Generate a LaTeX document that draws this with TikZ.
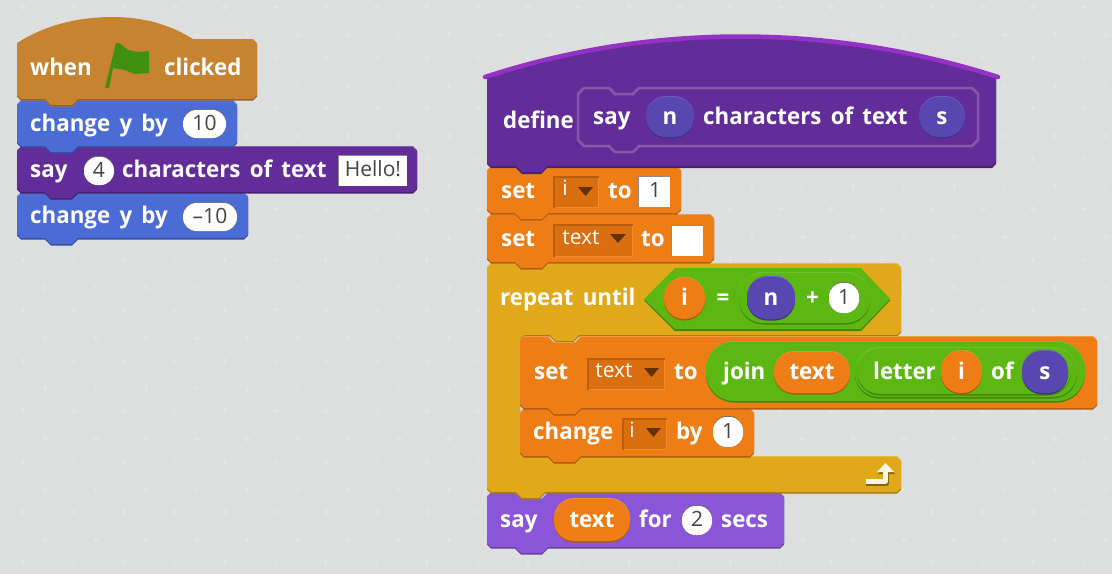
\documentclass[tikz,border=0pt]{standalone}
\usepackage{fontspec}
\setmainfont{Open Sans}
\newfontfamily\blockface[WordSpace=1.6,FakeStretch=0.97]{Open Sans}
\definecolor{scbg}{HTML}{DDDFDE}
\definecolor{scplus}{HTML}{E3E5E4}
\definecolor{schat}{HTML}{C88330}
\definecolor{scblue}{HTML}{4A6CD4}
\definecolor{scmore}{HTML}{632D99}
\definecolor{scedge}{HTML}{8558A8}
\definecolor{sclip}{HTML}{9432C6}
\definecolor{sclooks}{HTML}{8A55D7}
\definecolor{scdata}{HTML}{EE7D16}
\definecolor{scdrop}{HTML}{DA6F10}
\definecolor{sccontrol}{HTML}{E1A91A}
\definecolor{scgreen}{HTML}{5CB712}
\definecolor{scparam}{HTML}{5947B1}
\definecolor{scflag}{HTML}{3F8F10}
\definecolor{scnum}{HTML}{444444}
\tikzset{
  lbl/.style={white,anchor=mid west,inner sep=0pt,yshift=-5pt,font=\blockface\bfseries\fontsize{23}{23}\selectfont},
  numlbl/.style={scnum,anchor=mid,inner sep=0pt,yshift=-4pt,font=\fontsize{21}{21}\selectfont},
  droplbl/.style={white,anchor=mid,inner sep=0pt,yshift=-4pt,font=\fontsize{21}{21}\selectfont},
}
% x, y, width, height, colour
\newcommand{\stackshape}[2]{(0,4) -- (4,0) -- (28,0) -- (34,6) -- (55,6) -- (61,0) -- (#1-4,0) -- (#1,4) -- (#1,#2-4) -- (#1-4,#2) -- (61,#2) -- (55,#2+6) -- (34,#2+6) -- (28,#2) -- (4,#2) -- (0,#2-4) -- cycle}
\newcommand{\stackblock}[5]{
  \begin{scope}[shift={(#1,#2)}]
    \fill[#5!78!white,shift={(0,-1)}] \stackshape{#3}{#4};
    \fill[#5!72!black,shift={(0,1.5)}] \stackshape{#3}{#4};
    \fill[#5] \stackshape{#3}{#4};
  \end{scope}
}
% x1, y1, x2, y2, radius, colour
\newcommand{\pill}[6]{
  \fill[#6!88!white,rounded corners=#5pt] (#1,#2-1) rectangle (#3,#4);
  \fill[#6!72!black,rounded corners=#5pt] (#1,#2+1.5) rectangle (#3,#4+1.5);
  \fill[#6,rounded corners=#5pt] (#1,#2) rectangle (#3,#4);
}
\newcommand{\whitepill}[4]{
  \fill[black!55,rounded corners=13.5pt] (#1,#2-1) rectangle (#3,#4);
  \fill[white,rounded corners=13.5pt] (#1,#2) rectangle (#3,#4);
}
\newcommand{\whitebox}[4]{
  \fill[black!45] (#1-1,#2-1) rectangle (#3,#4);
  \fill[white] (#1,#2) rectangle (#3,#4);
}
\newcommand{\dropbox}[4]{
  \fill[scdrop!85!black] (#1,#2) rectangle (#3,#4);
  \fill[scdata!90!white] (#1+1.5,#2+1.5) rectangle (#3,#4);
  \fill[scdrop] (#1+1.5,#2+1.5) rectangle (#3-1.5,#4-1.5);
}
\newcommand{\droptip}[3]{
  \fill[black!55!scdrop] (#1,#2) -- (#1+#3,#2) -- (#1+#3/2,#2+9) -- cycle;
}
\begin{document}
\begin{tikzpicture}[x=1pt,y=-1pt,line join=round]
  \useasboundingbox (0,0) rectangle (1112,574);
  \fill[scbg] (0,0) rectangle (1112,574);
  \foreach \i in {0,...,21} \foreach \j in {0,...,11} {
    \draw[scplus,line width=1.5pt] (23+50.5*\i-3,7+50.5*\j) -- ++(6,0) (23+50.5*\i,7+50.5*\j-3) -- ++(0,6);
    \draw[scplus,line width=1.5pt] (45+50.5*\i-3,35+50.5*\j) -- ++(6,0) (45+50.5*\i,35+50.5*\j-3) -- ++(0,6);
  }

  % left stack
  \stackblock{17}{193}{231}{45}{scblue}
  \stackblock{17}{147}{400}{45}{scmore}
  \stackblock{17}{101}{220}{45}{scblue}
  \begin{scope}[shift={(0,1.5)}]
    \fill[schat!72!black] (17,43) .. controls (50,22) and (85,17) .. (113,17) .. controls (145,17) and (170,25) .. (193,39) -- (253,39) -- (257,43) -- (257,95) -- (253,99) -- (78,99) -- (72,105) -- (51,105) -- (45,99) -- (21,99) -- (17,95) -- cycle;
  \end{scope}
  \fill[schat] (17,43) .. controls (50,22) and (85,17) .. (113,17) .. controls (145,17) and (170,25) .. (193,39) -- (253,39) -- (257,43) -- (257,95) -- (253,99) -- (78,99) -- (72,105) -- (51,105) -- (45,99) -- (21,99) -- (17,95) -- cycle;
  \node[lbl] (when) at (30,68) {when};
  \fill[scflag] (105,88) -- (116,43) -- (119,43) -- (128,50) -- (138,52) -- (149,51) -- (149,73) -- (135,74) -- (125,70) -- (113,68) -- (109,88) -- cycle;
  \node[lbl] (clicked) at (164,68) {clicked};
  \node[lbl] (changey) at (30,124) {change y by};
  \whitepill{183}{110}{226}{138}
  \node[numlbl] (ten) at (204.5,124) {10};
  \node[lbl] (saytop) at (30,170) {say};
  \whitepill{84}{157}{114}{185}
  \node[numlbl] (four) at (99,171) {4};
  \node[lbl] (chars) at (122,170) {characters of text};
  \whitebox{339}{156}{407}{186}
  \node[numlbl] (hello) at (373,170) {Hello!};
  \node[lbl] (changeyb) at (30,216) {change y by};
  \whitepill{183}{203}{237}{231}
  \node[numlbl] (minusten) at (210,217) {--10};

  % define stack
  \stackblock{487}{493}{297}{54}{sclooks}
  \node[lbl] (saybot) at (500,520) {say};
  \pill{554}{499}{630}{541}{20}{scdata}
  \node[lbl,anchor=mid] (textc) at (592,520) {text};
  \node[lbl] (forlbl) at (639,520) {for};
  \whitepill{682}{506}{712}{535}
  \node[numlbl] (two) at (697,520) {2};
  \node[lbl] (secs) at (721,520) {secs};

  \begin{scope}[shift={(487,264)}]
    \def\repeatshape{(0,4) -- (4,0) -- (28,0) -- (34,6) -- (55,6) -- (61,0) -- (410,0) -- (414,4) -- (414,67) -- (410,71) -- (92,71) -- (86,77) -- (69,77) -- (63,71) -- (37,71) -- (33,75) -- (33,189) -- (37,193) -- (410,193) -- (414,197) -- (414,224) -- (410,228) -- (58,228) -- (52,234) -- (35,234) -- (29,228) -- (4,228) -- (0,224) -- cycle}
    \fill[sccontrol!78!white,shift={(0,-1)}] \repeatshape;
    \fill[sccontrol!72!black,shift={(0,1.5)}] \repeatshape;
    \fill[sccontrol] \repeatshape;
  \end{scope}
  \node[lbl] (repeatl) at (500,298) {repeat until};
  \fill[scgreen!72!black] (644,300.5) -- (675,269.5) -- (861,269.5) -- (890,300.5) -- (861,331) -- (675,331) -- cycle;
  \fill[scgreen] (644,299) -- (675,268) -- (861,268) -- (890,299) -- (861,329) -- (675,329) -- cycle;
  \pill{664}{278}{705}{319}{20}{scdata}
  \node[lbl,anchor=mid] (ia) at (684.5,298) {i};
  \node[lbl,anchor=mid] (eq) at (723,298) {=};
  \pill{739}{273}{870}{323}{24}{scgreen}
  \pill{747}{277}{795}{319}{20}{scparam}
  \node[lbl,anchor=mid] (nb) at (771,298) {n};
  \node[lbl,anchor=mid] (plus) at (812.5,298) {+};
  \whitepill{829}{283}{859}{313}
  \node[numlbl] (onea) at (844,298) {1};
  \draw[sccontrol!60!black,line width=5pt] (866,483) -- (886.5,483) -- (886.5,474);
  \fill[sccontrol!60!black] (878,474) -- (886.5,465) -- (895,474) -- cycle;
  \draw[white!88!sccontrol,line width=5pt] (866,481) -- (885.5,481) -- (885.5,472);
  \fill[white!88!sccontrol] (877,472) -- (885.5,463) -- (894,472) -- cycle;

  \stackblock{520}{409}{234}{47}{scdata}
  \node[lbl] (changei) at (533,432) {change};
  \dropbox{622}{418}{667}{450}
  \node[droplbl] (ib) at (632,431) {i};
  \droptip{646}{428}{15}
  \node[lbl] (bylbl) at (676,432) {by};
  \whitepill{713}{417}{743}{447}
  \node[numlbl] (oneb) at (728,432) {1};

  \stackblock{520}{337}{577}{71}{scdata}
  \node[lbl] (setc) at (534,372) {set};
  \dropbox{587}{358}{665}{390}
  \node[droplbl] (textd) at (614,371) {text};
  \droptip{644}{368}{15}
  \node[lbl] (tob) at (674,372) {to};
  \pill{706}{342}{1085}{401}{28}{scgreen}
  \node[lbl] (joinl) at (723,372) {join};
  \pill{774}{352}{850}{393}{20}{scdata}
  \node[lbl,anchor=mid] (texte) at (812,372) {text};
  \pill{855}{348}{1077}{397}{24}{scgreen}
  \pill{857}{348}{1071}{394}{23}{scgreen}
  \node[lbl] (letterl) at (873,372) {letter};
  \pill{941}{351}{982}{393}{20}{scdata}
  \node[lbl,anchor=mid] (ic) at (961.5,372) {i};
  \node[lbl] (ofl) at (991,372) {of};
  \pill{1022}{351}{1068}{393}{20}{scparam}
  \node[lbl,anchor=mid] (sb) at (1045,372) {s};

  \stackblock{487}{215}{227}{47}{scdata}
  \node[lbl] (setb) at (501,239) {set};
  \dropbox{553}{224}{633}{257}
  \node[droplbl] (textb) at (581,238) {text};
  \droptip{610}{234}{16}
  \node[lbl] (toa) at (641,239) {to};
  \whitebox{672}{226}{703}{256}

  \stackblock{487}{167}{194}{46}{scdata}
  \node[lbl] (seta) at (501,191) {set};
  \dropbox{553}{176}{599}{208}
  \node[droplbl] (id) at (565,189) {i};
  \droptip{578}{187}{15}
  \node[lbl] (tos) at (608,191) {to};
  \whitebox{639}{177}{670}{207}
  \node[numlbl] (onec) at (655,191) {1};

  \fill[scmore!72!black] (487,77) -- (996,77) -- (996,164) -- (992,168) -- (547,168) -- (541,174) -- (522,174) -- (516,168) -- (491,168) -- (487,164) -- cycle;
  \fill[scmore] (487,77) -- (996,77) -- (996,162) -- (992,166) -- (547,166) -- (541,172) -- (522,172) -- (516,166) -- (491,166) -- (487,162) -- cycle;
  \fill[scmore] (485,77) .. controls (650,23) and (830,23) .. (998,77) -- cycle;
  \draw[sclip,line width=4.5pt,line cap=round] (485,77) .. controls (650,23) and (830,23) .. (998,77);
  \node[lbl] (definel) at (503,121) {define};
  \draw[scedge,line width=2.5pt] (578,94) -- (584,88) -- (609,88) -- (615,94) -- (633,94) -- (639,88) -- (972,88) -- (978,94) -- (978,140) -- (972,146) -- (639,146) -- (633,152) -- (615,152) -- (609,146) -- (584,146) -- (578,140) -- cycle;
  \node[lbl] (sayd) at (593,117) {say};
  \pill{646}{97}{694}{137}{20}{scparam}
  \node[lbl,anchor=mid] (na) at (670,117) {n};
  \node[lbl] (charsb) at (703,117) {characters of text};
  \pill{919}{97}{965}{137}{20}{scparam}
  \node[lbl,anchor=mid] (sa) at (942,117) {s};
\end{tikzpicture}
\end{document}
